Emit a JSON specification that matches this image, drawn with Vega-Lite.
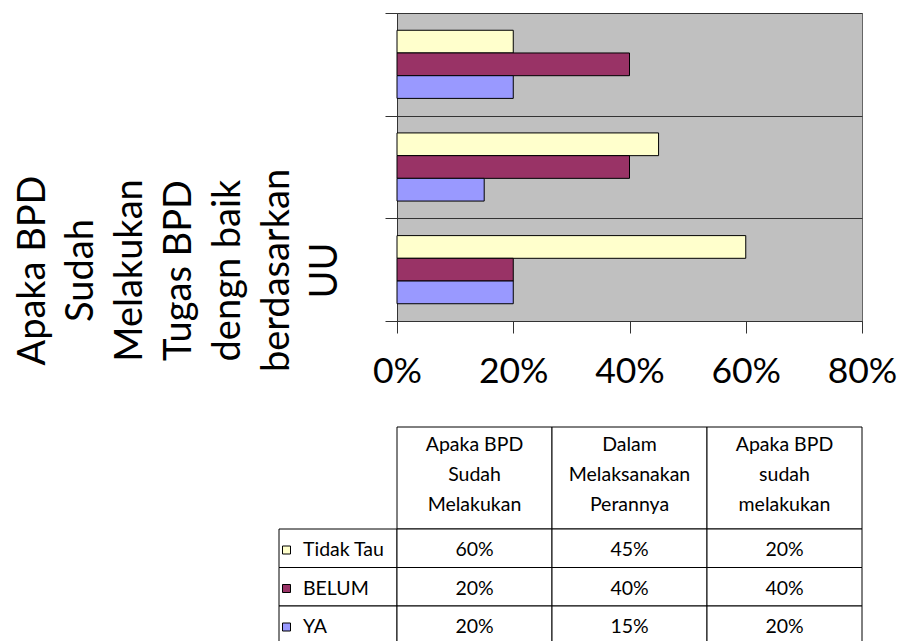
{
  "$schema": "https://vega.github.io/schema/vega-lite/v6.json",
  "background": "white",
  "padding": {"left": 13, "top": 12, "right": 0, "bottom": 0},
  "bounds": "flush",
  "spacing": 0,
  "columns": 2,
  "config": {"view": {"stroke": null}, "font": "Lato"},
  "datasets": {
    "survei": [
      {"kategori": "Apaka BPD\nSudah\nMelakukan", "jawaban": "Tidak Tau", "nilai": 0.60},
      {"kategori": "Apaka BPD\nSudah\nMelakukan", "jawaban": "BELUM", "nilai": 0.20},
      {"kategori": "Apaka BPD\nSudah\nMelakukan", "jawaban": "YA", "nilai": 0.20},
      {"kategori": "Dalam\nMelaksanakan\nPerannya", "jawaban": "Tidak Tau", "nilai": 0.45},
      {"kategori": "Dalam\nMelaksanakan\nPerannya", "jawaban": "BELUM", "nilai": 0.40},
      {"kategori": "Dalam\nMelaksanakan\nPerannya", "jawaban": "YA", "nilai": 0.15},
      {"kategori": "Apaka BPD\nsudah\nmelakukan", "jawaban": "Tidak Tau", "nilai": 0.20},
      {"kategori": "Apaka BPD\nsudah\nmelakukan", "jawaban": "BELUM", "nilai": 0.40},
      {"kategori": "Apaka BPD\nsudah\nmelakukan", "jawaban": "YA", "nilai": 0.20}
    ]
  },
  "concat": [
    {
      "width": 118,
      "height": 414,
      "data": {"values": []},
      "mark": "point"
    },
    {
      "width": 465,
      "height": 308,
      "data": {"name": "survei"},
      "view": {"fill": "#c0c0c0", "stroke": "#666666", "strokeWidth": 1},
      "mark": {"type": "bar", "stroke": "#000000", "strokeWidth": 1},
      "encoding": {
        "y": {
          "field": "kategori",
          "type": "nominal",
          "sort": ["Apaka BPD\nsudah\nmelakukan", "Dalam\nMelaksanakan\nPerannya", "Apaka BPD\nSudah\nMelakukan"],
          "scale": {"paddingInner": 0, "paddingOuter": 0},
          "axis": {
            "labels": false,
            "tickBand": "extent",
            "tickSize": 12,
            "tickColor": "#333333",
            "domainColor": "#333333",
            "grid": true,
            "gridColor": "#333333",
            "gridOpacity": 1,
            "title": ["Apaka BPD", "Sudah", "Melakukan", "Tugas BPD", "dengn baik", "berdasarkan", "UU"],
            "titleFont": "Lato",
            "titleFontSize": 38,
            "titleFontWeight": "normal",
            "titleLineHeight": 48.8,
            "titleColor": "#000000",
            "titleAngle": 270,
            "titleBaseline": "alphabetic",
            "titleAlign": "center",
            "titleX": -353,
            "titleY": 257
          }
        },
        "yOffset": {
          "field": "jawaban",
          "sort": ["Tidak Tau", "BELUM", "YA"],
          "scale": {"paddingInner": 0, "paddingOuter": 0.76}
        },
        "x": {
          "field": "nilai",
          "type": "quantitative",
          "scale": {"domain": [0, 0.8]},
          "axis": {
            "values": [0, 0.2, 0.4, 0.6, 0.8],
            "format": ".0%",
            "grid": false,
            "tickSize": 12,
            "tickColor": "#333333",
            "domainColor": "#333333",
            "labelFont": "Lato",
            "labelFontSize": 35.5,
            "labelColor": "#000000",
            "labelPadding": 21,
            "labelFlush": false,
            "labelOverlap": false,
            "title": null
          }
        },
        "color": {
          "field": "jawaban",
          "type": "nominal",
          "scale": {"domain": ["Tidak Tau", "BELUM", "YA"], "range": ["#ffffcc", "#993366", "#9999ff"]},
          "legend": null
        }
      }
    },
    {
      "width": 118,
      "height": 102,
      "data": {"values": []},
      "mark": "point"
    },
    {
      "width": 465,
      "height": 102,
      "data": {"name": "survei"},
      "transform": [{"filter": {"field": "jawaban", "equal": "YA"}}],
      "encoding": {
        "x": {
          "field": "kategori",
          "type": "nominal",
          "sort": ["Apaka BPD\nSudah\nMelakukan", "Dalam\nMelaksanakan\nPerannya", "Apaka BPD\nsudah\nmelakukan"],
          "scale": {"paddingInner": 0, "paddingOuter": 0},
          "axis": null
        }
      },
      "layer": [
        {"mark": {"type": "rect", "fill": "#ffffff", "stroke": "#000000", "strokeWidth": 1}},
        {
          "mark": {"type": "text", "lineBreak": "\n", "lineHeight": 30, "fontSize": 19.5, "font": "Lato", "color": "#000000", "baseline": "middle", "dy": -33},
          "encoding": {"text": {"field": "kategori", "type": "nominal"}}
        }
      ]
    },
    {
      "width": 118,
      "height": 115.5,
      "data": {"name": "survei"},
      "transform": [{"filter": {"field": "kategori", "equal": "Dalam\nMelaksanakan\nPerannya"}}],
      "encoding": {
        "y": {
          "field": "jawaban",
          "type": "nominal",
          "sort": ["Tidak Tau", "BELUM", "YA"],
          "scale": {"paddingInner": 0, "paddingOuter": 0},
          "axis": null
        }
      },
      "layer": [
        {"mark": {"type": "rect", "fill": "#ffffff", "stroke": "#000000", "strokeWidth": 1}},
        {
          "mark": {"type": "point", "shape": "square", "filled": true, "size": 64, "stroke": "#000000", "strokeWidth": 1, "opacity": 1},
          "encoding": {
            "xOffset": {"value": -51.5},
            "yOffset": {"value": 21},
            "color": {
              "field": "jawaban",
              "type": "nominal",
              "scale": {"domain": ["Tidak Tau", "BELUM", "YA"], "range": ["#ffffcc", "#993366", "#9999ff"]},
              "legend": null
            }
          }
        },
        {
          "mark": {"type": "text", "align": "left", "dx": -35, "dy": 2, "fontSize": 19.5, "font": "Lato", "color": "#000000"},
          "encoding": {"text": {"field": "jawaban", "type": "nominal"}}
        }
      ]
    },
    {
      "width": 465,
      "height": 115.5,
      "data": {"name": "survei"},
      "encoding": {
        "x": {
          "field": "kategori",
          "type": "nominal",
          "sort": ["Apaka BPD\nSudah\nMelakukan", "Dalam\nMelaksanakan\nPerannya", "Apaka BPD\nsudah\nmelakukan"],
          "scale": {"paddingInner": 0, "paddingOuter": 0},
          "axis": null
        },
        "y": {
          "field": "jawaban",
          "type": "nominal",
          "sort": ["Tidak Tau", "BELUM", "YA"],
          "scale": {"paddingInner": 0, "paddingOuter": 0},
          "axis": null
        }
      },
      "layer": [
        {"mark": {"type": "rect", "fill": "#ffffff", "stroke": "#000000", "strokeWidth": 1}},
        {
          "mark": {"type": "text", "fontSize": 19.5, "font": "Lato", "color": "#000000", "dy": 2},
          "encoding": {"text": {"field": "nilai", "type": "quantitative", "format": ".0%"}}
        }
      ]
    }
  ]
}
